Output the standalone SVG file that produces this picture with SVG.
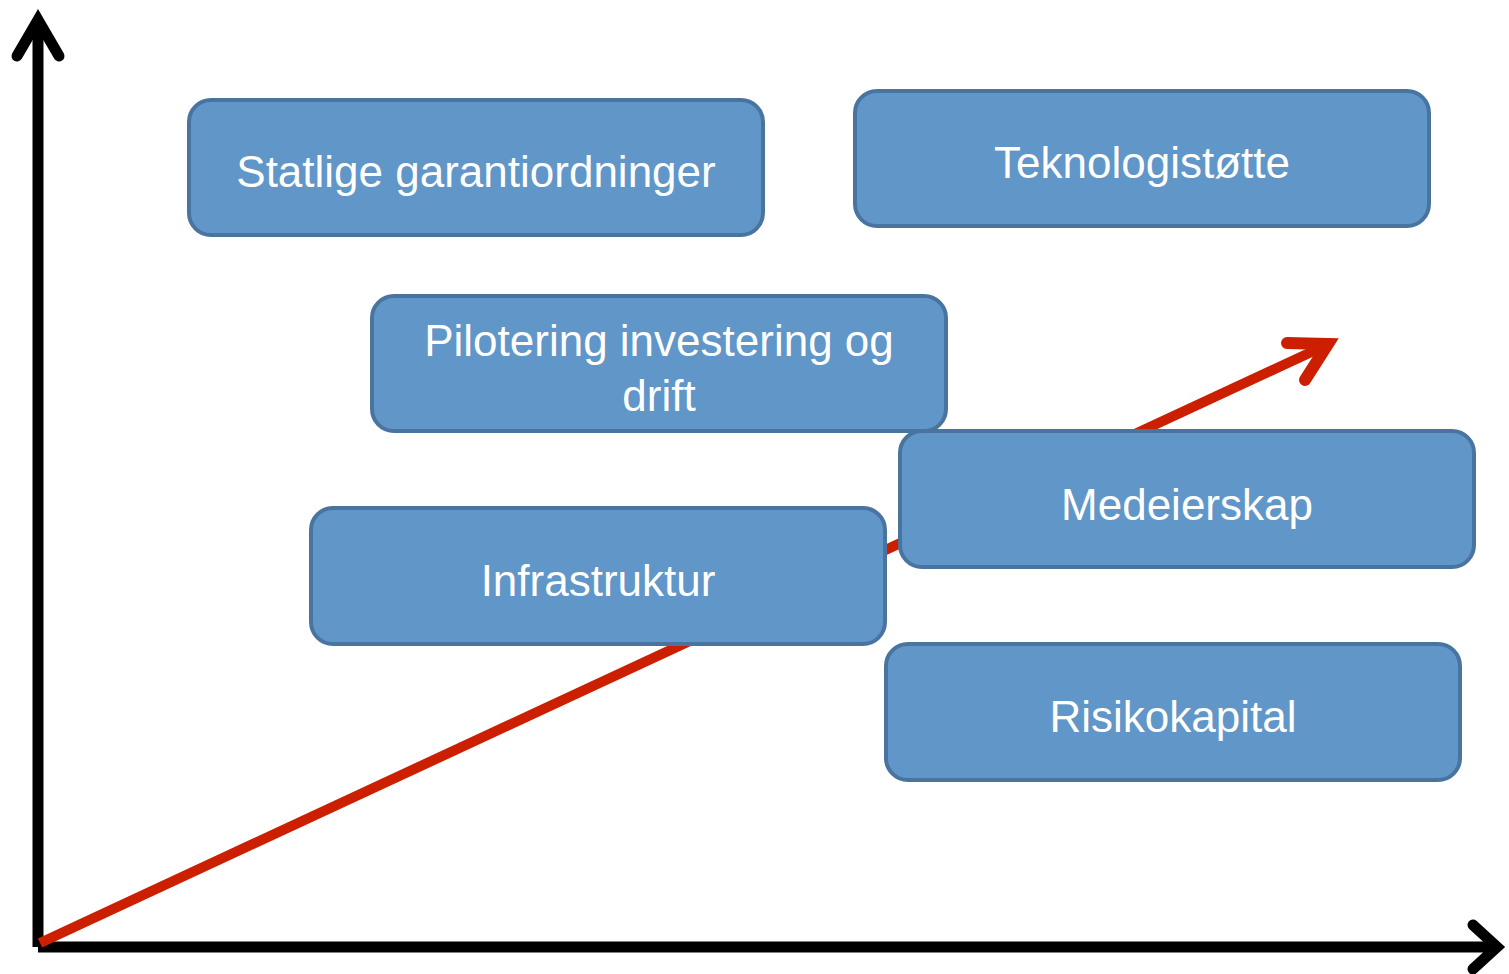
<svg xmlns="http://www.w3.org/2000/svg" width="1509" height="974" viewBox="0 0 1509 974">
<style>
.axis{fill:none;stroke:#000;stroke-width:11}
.head{fill:none;stroke-linecap:round;stroke-linejoin:miter;stroke-miterlimit:10}
.box{fill:#6196C9;stroke:#4A74A0;stroke-width:4}
.lbl{font-family:"Liberation Sans",Arial,sans-serif;font-size:44px;fill:#fff;text-anchor:middle}
</style>
<rect width="1509" height="974" fill="#fff"/>
<g id="axes">
<line class="axis" x1="38" y1="22" x2="38" y2="947"/>
<line class="axis" x1="38" y1="947" x2="1495" y2="947"/>
<polyline class="axis head" points="17,56 38,20 59,56"/>
<polyline class="axis head" points="1473,925 1497,947 1473,969"/>
</g>
<g id="connectors">
<line x1="40" y1="943" x2="1320" y2="348" stroke="#CC1F00" stroke-width="10"/>
<polyline class="head" points="1287,343 1328,344 1305,380" stroke="#CC1F00" stroke-width="12"/>
</g>
<g id="node-statlige">
<rect class="box" x="189" y="100" width="574" height="135" rx="22"/>
<text class="lbl" x="476" y="187">Statlige garantiordninger</text>
</g>
<g id="node-teknologi">
<rect class="box" x="855" y="91" width="574" height="135" rx="22"/>
<text class="lbl" x="1142" y="178">Teknologistøtte</text>
</g>
<g id="node-pilotering">
<rect class="box" x="372" y="296" width="574" height="135" rx="22"/>
<text class="lbl" x="659" y="356">Pilotering investering og</text>
<text class="lbl" x="659" y="411">drift</text>
</g>
<g id="node-infrastruktur">
<rect class="box" x="311" y="508" width="574" height="136" rx="22"/>
<text class="lbl" x="598" y="596">Infrastruktur</text>
</g>
<g id="node-medeierskap">
<rect class="box" x="900" y="431" width="574" height="136" rx="22"/>
<text class="lbl" x="1187" y="520">Medeierskap</text>
</g>
<g id="node-risikokapital">
<rect class="box" x="886" y="644" width="574" height="136" rx="22"/>
<text class="lbl" x="1173" y="732">Risikokapital</text>
</g>
</svg>
